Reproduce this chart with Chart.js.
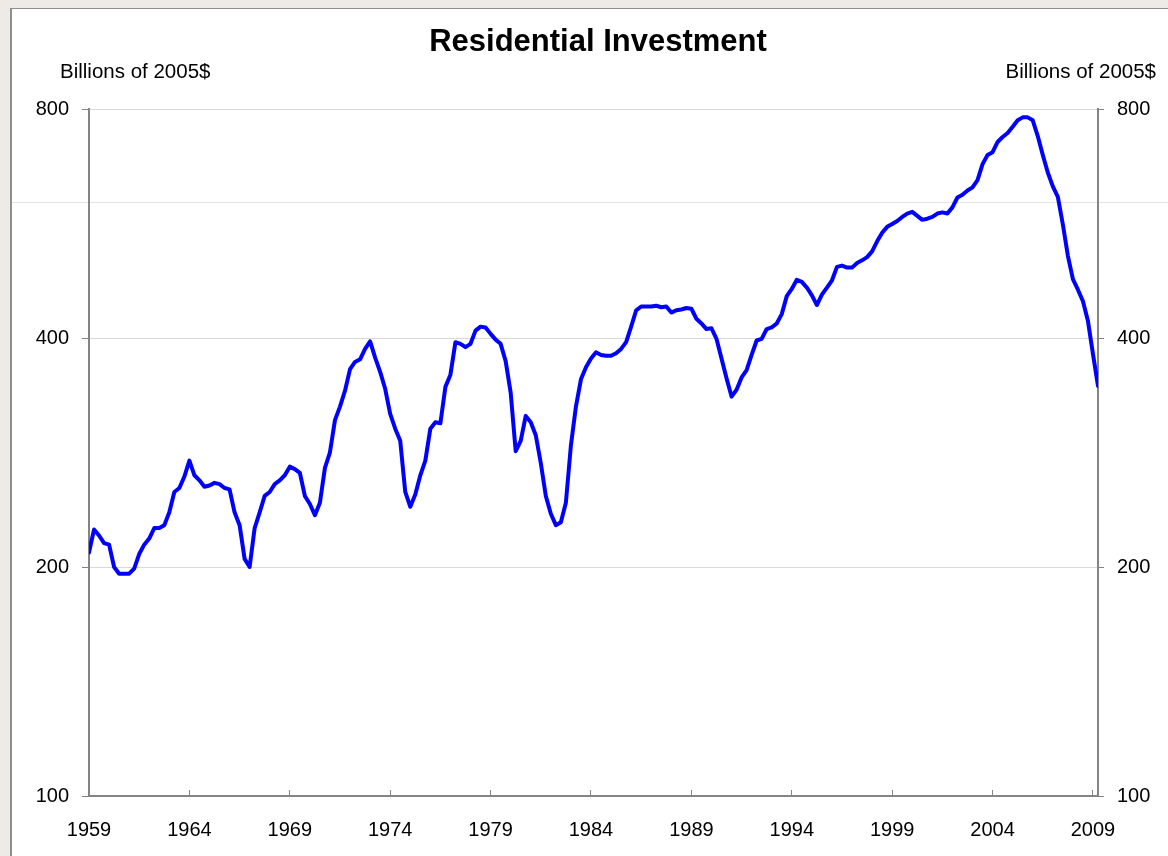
<!DOCTYPE html>
<html>
<head>
<meta charset="utf-8">
<title>Residential Investment</title>
<script src="https://cdn.jsdelivr.net/npm/chart.js@4.4.1/dist/chart.umd.min.js"></script>
<style>
  html, body { margin: 0; padding: 0; }
  body {
    width: 1168px; height: 856px; position: relative; overflow: hidden;
    background: #eeebe7;
  }
  .slide {
    position: absolute; left: 10px; top: 8px; right: 0; bottom: 0;
    background: #fff; border-left: 2px solid #8e8e8e; border-top: 1px solid #8e8e8e;
  }
  .rule { position: absolute; left: 12px; right: 0; top: 202px; height: 1px; background: #e6e4e0; }
  #wrap { position: absolute; left: 0; top: 0; width: 1168px; height: 856px; }
</style>
</head>
<body>
<div class="slide"></div>
<div class="rule"></div>
<div id="wrap"><canvas id="investChart" width="1168" height="856"></canvas></div>
<script>
// quarterly data, 1959Q1 .. 2009Q2, billions of chained 2005 dollars
const firstQuarter = 1959;
const residentialInvestment = [
  209, 224, 220, 215, 214, 200, 196, 196, 196, 199,
  208, 214, 218, 225, 225, 227, 236, 251, 254, 263,
  276, 264, 260, 255, 256, 258, 257, 254, 253, 236,
  227, 205, 200, 225, 236, 248, 251, 257, 260, 264,
  271, 269, 266, 248, 242, 234, 243, 270, 283, 312,
  325, 341, 364, 372, 375, 387, 396, 377, 361, 343,
  318, 304, 293, 251, 240, 249, 264, 276, 304, 310,
  309, 345, 358, 395, 393, 389, 393, 409, 414, 413,
  405, 398, 393, 373, 339, 284, 293, 316, 310, 298,
  274, 248, 235, 227, 229, 243, 289, 325, 353, 366,
  376, 383, 380, 379, 379, 382, 387, 395, 414, 435,
  440, 440, 440, 441, 439, 440, 432, 435, 436, 438,
  437, 424, 418, 411, 412, 399, 376, 354, 335, 342,
  355, 363, 380, 397, 399, 411, 413, 418, 430, 454,
  464, 477, 474, 466, 455, 442, 456, 466, 476, 496,
  498, 495, 495, 502, 506, 511, 520, 536, 550, 560,
  565, 570, 577, 583, 586, 579, 572, 574, 577, 583,
  585, 583, 594, 612, 617, 625, 631, 645, 677, 696,
  702, 724, 735, 744, 758, 773, 780, 780, 773, 737,
  696, 660, 633, 613, 564, 513, 478, 463, 447, 421,
  381, 346
];
const yearTicks = [1959, 1964, 1969, 1974, 1979, 1984, 1989, 1994, 1999, 2004, 2009];
const valueTicks = [100, 200, 400, 800];

const FONT = '"Liberation Sans", Arial, sans-serif';
const AXIS_GRAY = '#848484';

const points = residentialInvestment.map((v, i) => ({ x: firstQuarter + i / 4, y: v }));
const lastX = firstQuarter + (residentialInvestment.length - 1) / 4;

// title and the two unit captions above the axes
const captions = {
  id: 'captions',
  afterDraw(chart) {
    const c = chart.ctx;
    c.save();
    c.fillStyle = '#000';
    c.textBaseline = 'alphabetic';
    c.font = 'bold 31px ' + FONT;
    c.textAlign = 'center';
    c.fillText('Residential Investment', 598, 51);
    c.font = '20.5px ' + FONT;
    c.textAlign = 'left';
    c.fillText('Billions of 2005$', 60, 78);
    c.textAlign = 'right';
    c.fillText('Billions of 2005$', 1156, 78);
    c.restore();
  }
};

const tickFont = { family: FONT, size: 20 };

new Chart(document.getElementById('investChart'), {
  type: 'line',
  data: {
    datasets: [{
      label: 'Residential Investment',
      data: points,
      borderColor: '#0000ff',
      borderWidth: 4,
      pointRadius: 0,
      tension: 0,
      borderJoinStyle: 'round',
      borderCapStyle: 'round',
      yAxisID: 'y'
    }]
  },
  options: {
    responsive: false,
    animation: false,
    layout: { padding: { top: 109, left: 0, right: 0, bottom: 0 } },
    plugins: {
      legend: { display: false },
      tooltip: { enabled: false },
      title: { display: false }
    },
    scales: {
      x: {
        type: 'linear',
        min: firstQuarter,
        max: lastX,
        afterBuildTicks: s => { s.ticks = yearTicks.map(v => ({ value: v })); },
        afterFit: s => { s.height = 60; },
        grid: { drawOnChartArea: false, tickLength: -6, tickColor: AXIS_GRAY, tickWidth: 1 },
        border: { color: AXIS_GRAY, width: 2 },
        ticks: {
          padding: 28, font: tickFont, color: '#000',
          maxRotation: 0, autoSkip: false,
          callback: v => String(v)
        }
      },
      y: {
        type: 'logarithmic',
        position: 'left',
        min: 100,
        max: 800,
        afterBuildTicks: s => { s.ticks = valueTicks.map(v => ({ value: v })); },
        afterFit: s => { s.width = 89; },
        grid: { color: '#d9d9d9', lineWidth: 1, tickLength: 7, tickColor: AXIS_GRAY },
        border: { color: AXIS_GRAY, width: 2 },
        ticks: { padding: 13, font: tickFont, color: '#000', callback: v => String(v) }
      },
      y2: {
        type: 'logarithmic',
        position: 'right',
        min: 100,
        max: 800,
        afterBuildTicks: s => { s.ticks = valueTicks.map(v => ({ value: v })); },
        afterFit: s => { s.width = 70; },
        grid: { drawOnChartArea: false, tickLength: 6, tickColor: AXIS_GRAY },
        border: { color: AXIS_GRAY, width: 2 },
        ticks: { padding: 13, font: tickFont, color: '#000', callback: v => String(v) }
      }
    }
  },
  plugins: [captions]
});
</script>
</body>
</html>
